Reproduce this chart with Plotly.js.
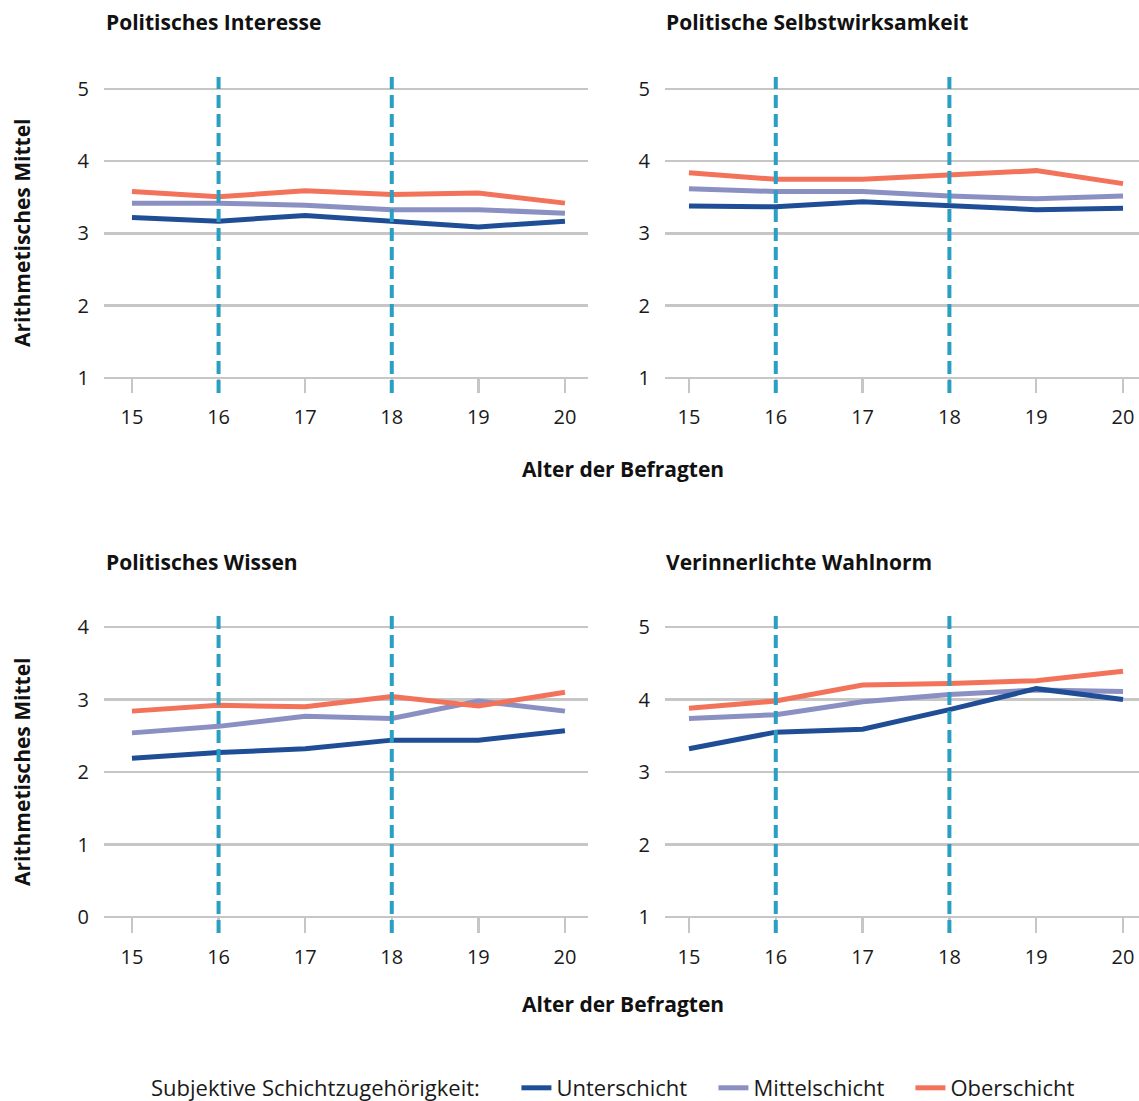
<!DOCTYPE html>
<html>
<head>
<meta charset="utf-8">
<script src="https://cdn.plot.ly/plotly-3.0.1.min.js"></script>
<style>html,body{margin:0;padding:0;background:#fff}</style>
</head>
<body>
<div id="chart" style="width:1139px;height:1101px"></div>
<script>
// ---- data ----
const ages = [15, 16, 17, 18, 19, 20];
const cutoffAges = [16, 18];
const groupNames = ["Unterschicht", "Mittelschicht", "Oberschicht"];
const panelTitles = ["Politisches Interesse", "Politische Selbstwirksamkeit", "Politisches Wissen", "Verinnerlichte Wahlnorm"];

const interesseUnter  = [3.22, 3.17, 3.25, 3.17, 3.09, 3.17];
const interesseMittel = [3.42, 3.42, 3.39, 3.33, 3.33, 3.28];
const interesseOber   = [3.58, 3.51, 3.59, 3.54, 3.56, 3.42];

const selbstUnter  = [3.38, 3.37, 3.44, 3.38, 3.33, 3.35];
const selbstMittel = [3.62, 3.58, 3.58, 3.52, 3.48, 3.52];
const selbstOber   = [3.84, 3.75, 3.75, 3.81, 3.87, 3.69];

const wissenUnter  = [2.19, 2.27, 2.32, 2.44, 2.44, 2.57];
const wissenMittel = [2.54, 2.63, 2.77, 2.74, 2.98, 2.84];
const wissenOber   = [2.84, 2.92, 2.90, 3.04, 2.91, 3.10];

const wahlUnter  = [3.32, 3.55, 3.59, 3.86, 4.15, 4.00];
const wahlMittel = [3.74, 3.79, 3.97, 4.07, 4.13, 4.11];
const wahlOber   = [3.88, 3.98, 4.20, 4.22, 4.26, 4.39];

const yTicks15 = [1, 2, 3, 4, 5];
const yTicks04 = [0, 1, 2, 3, 4];

// ---- styles ----
const colors = {Unterschicht: "#1f4e96", Mittelschicht: "#8b90c2", Oberschicht: "#f2735a"};
const FONT = "Open Sans, Noto Sans, sans-serif";
const GRID = "#c6c6c6";
const W = 1139, H = 1101;

const panels = [
  {data: [interesseUnter, interesseMittel, interesseOber], xa: "x",  ya: "y"},
  {data: [selbstUnter, selbstMittel, selbstOber],          xa: "x2", ya: "y2"},
  {data: [wissenUnter, wissenMittel, wissenOber],          xa: "x3", ya: "y3"},
  {data: [wahlUnter, wahlMittel, wahlOber],                xa: "x4", ya: "y4"}
];

const drawOrder = [1, 0, 2]; // Mittel below Unter below Ober
const traces = [];
panels.forEach((p, pi) => {
  drawOrder.forEach(gi => {
    traces.push({
      type: "scatter", mode: "lines",
      x: ages, y: p.data[gi],
      xaxis: p.xa, yaxis: p.ya,
      name: groupNames[gi],
      legendrank: gi + 1,
      showlegend: pi === 0,
      line: {color: colors[groupNames[gi]], width: 5},
      hoverinfo: "skip"
    });
  });
});

function px(x) { return x / W; }
function py(y) { return 1 - y / H; }

const xLeft = [px(104), px(588)];
const xRight = [px(665), 1];
const yTop = [py(393), py(77)];
const yBot = [py(933), py(616)];

function xAxis(domain, anchor, range) {
  return {
    domain: domain, anchor: anchor, range: range,
    tickvals: ages, ticks: "inside", ticklen: 15, tickwidth: 2.5, tickcolor: GRID,
    showgrid: false, zeroline: false, showline: false,
    tickfont: {family: FONT, size: 20, color: "#1a1a1a"},
    ticklabelstandoff: 10, fixedrange: true
  };
}
function yAxis(domain, anchor, range, ticks) {
  return {
    domain: domain, anchor: anchor, range: range,
    tickvals: ticks, ticks: "", showgrid: true, gridcolor: GRID, gridwidth: 2.5,
    zeroline: false, showline: false,
    tickfont: {family: FONT, size: 20, color: "#1a1a1a"},
    ticklabelstandoff: 14, fixedrange: true
  };
}

const shapes = [];
["x", "x2", "x3", "x4"].forEach((xa, i) => {
  const ya = ["y", "y2", "y3", "y4"][i];
  cutoffAges.forEach(a => {
    shapes.push({
      type: "line", xref: xa, yref: ya + " domain",
      x0: a, x1: a, y0: 0, y1: 1, layer: "above",
      line: {color: "#2a9fc3", width: 4, dash: "13px,6px"}
    });
  });
});

const titleFont = {family: FONT, size: 21, color: "#111"};
const annotations = [
  {text: "<b>" + panelTitles[0] + "</b>", x: px(104), y: py(22)},
  {text: "<b>" + panelTitles[1] + "</b>", x: px(664), y: py(22)},
  {text: "<b>" + panelTitles[2] + "</b>", x: px(104), y: py(562)},
  {text: "<b>" + panelTitles[3] + "</b>", x: px(664), y: py(562)}
].map(a => Object.assign(a, {xref: "paper", yref: "paper", xanchor: "left", yanchor: "middle", showarrow: false, font: titleFont}));

[233, 772].forEach(yc => annotations.push({
  text: "<b>Arithmetisches Mittel</b>", textangle: -90, x: px(22), y: py(yc),
  xref: "paper", yref: "paper", xanchor: "center", yanchor: "middle", showarrow: false, font: titleFont
}));
[469, 1004].forEach(yc => annotations.push({
  text: "<b>Alter der Befragten</b>", x: px(623), y: py(yc),
  xref: "paper", yref: "paper", xanchor: "center", yanchor: "middle", showarrow: false, font: titleFont
}));

const layout = {
  width: W, height: H,
  margin: {l: 0, r: 0, t: 0, b: 0, autoexpand: false},
  paper_bgcolor: "#fff", plot_bgcolor: "#fff",
  font: {family: FONT, color: "#1a1a1a"},
  xaxis:  xAxis(xLeft, "y", [14.677, 20.266]),
  xaxis2: xAxis(xRight, "y2", [14.724, 20.184]),
  xaxis3: xAxis(xLeft, "y3", [14.677, 20.266]),
  xaxis4: xAxis(xRight, "y4", [14.724, 20.184]),
  yaxis:  yAxis(yTop, "x", [0.792, 5.166], yTicks15),
  yaxis2: yAxis(yTop, "x2", [0.792, 5.166], yTicks15),
  yaxis3: yAxis(yBot, "x3", [-0.22, 4.152], yTicks04),
  yaxis4: yAxis(yBot, "x4", [0.78, 5.152], yTicks15),
  shapes: shapes,
  annotations: annotations,
  showlegend: true,
  legend: {
    orientation: "h", x: px(149), xanchor: "left", y: py(1088), yanchor: "middle",
    title: {text: "Subjektive Schichtzugehörigkeit:     ", side: "left", font: {family: FONT, size: 22, color: "#1a1a1a"}},
    font: {family: FONT, size: 22, color: "#1a1a1a"},
    entrywidth: 152, entrywidthmode: "pixels",
    traceorder: "normal", itemclick: false, itemdoubleclick: false
  }
};

Plotly.newPlot("chart", traces, layout, {displayModeBar: false, staticPlot: true});
</script>
</body>
</html>
